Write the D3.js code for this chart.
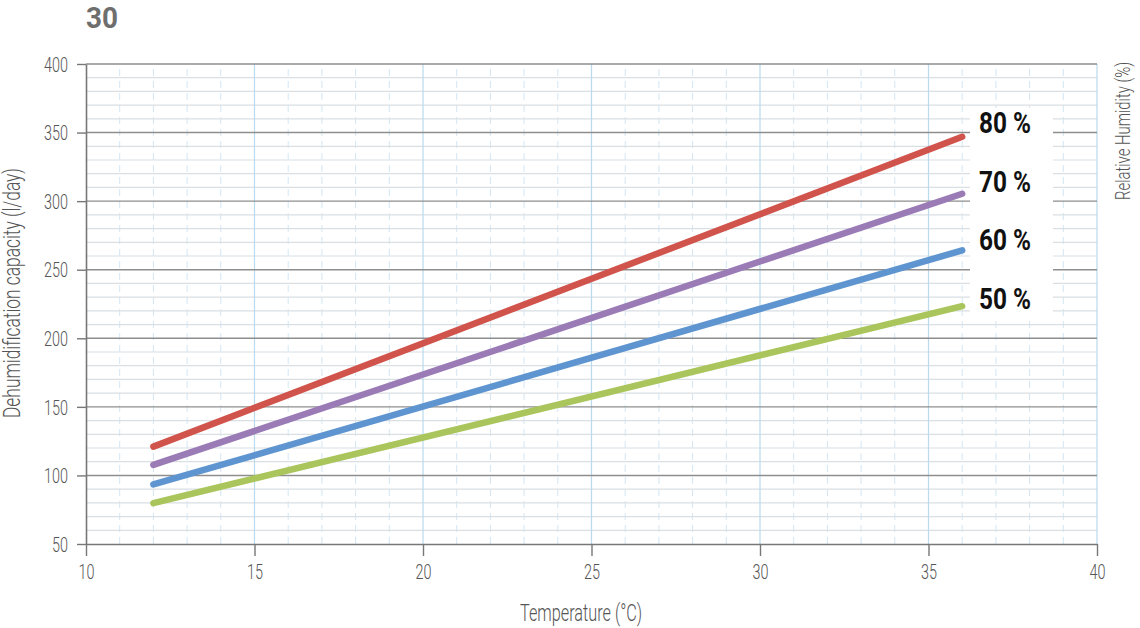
<!DOCTYPE html>
<html>
<head>
<meta charset="utf-8">
<script src="https://cdn.jsdelivr.net/npm/d3@7"></script>
<style>
  html, body { margin: 0; padding: 0; background: #fff; }
  svg { display: block; }
  text { font-family: Roboto, "Liberation Sans", sans-serif; }
</style>
</head>
<body>
<svg id="chart" width="1140" height="628"></svg>
<script>
// ---- data ----
const chartTitle = "30";
const temperatures = [12, 36];
const rh50 = [79.8, 223.4];
const rh60 = [93.4, 264.1];
const rh70 = [107.7, 305.4];
const rh80 = [121.0, 346.9];
const seriesLabels = ["80 %", "70 %", "60 %", "50 %"];
const xTicks = [10, 15, 20, 25, 30, 35, 40];
const yTicks = [50, 100, 150, 200, 250, 300, 350, 400];
const xTitle = "Temperature (°C)";
const yTitle = "Dehumidification capacity (l/day)";
const y2Title = "Relative Humidity (%)";

const series = [
  { name: seriesLabels[0], values: rh80, color: "#d1544c" },
  { name: seriesLabels[1], values: rh70, color: "#9a7bb6" },
  { name: seriesLabels[2], values: rh60, color: "#5e95d0" },
  { name: seriesLabels[3], values: rh50, color: "#a9c55b" }
];

const svg = d3.select("#chart");
const x = d3.scaleLinear().domain([10, 40]).range([86, 1097]);
const y = d3.scaleLinear().domain([50, 400]).range([544, 64]);

const grid = svg.append("g");
// minor vertical (dashed)
grid.selectAll("line.vmin").data(d3.range(11, 40).filter(v => v % 5 !== 0)).join("line")
  .attr("x1", d => x(d)).attr("x2", d => x(d)).attr("y1", y(50)).attr("y2", y(400))
  .attr("stroke", "#d3e6f3").attr("stroke-width", 1).attr("stroke-dasharray", "7,5");
// minor horizontal
grid.selectAll("line.hmin").data(d3.range(60, 400, 10).filter(v => v % 50 !== 0)).join("line")
  .attr("x1", x(10)).attr("x2", x(40)).attr("y1", d => y(d)).attr("y2", d => y(d))
  .attr("stroke", "#dadfe3").attr("stroke-width", 1.2);
// major vertical
grid.selectAll("line.vmaj").data(xTicks.slice(1)).join("line")
  .attr("x1", d => x(d)).attr("x2", d => x(d)).attr("y1", y(50)).attr("y2", y(400))
  .attr("stroke", "#b9daef").attr("stroke-width", 1.2);
// major horizontal
grid.selectAll("line.hmaj").data(yTicks.slice(1)).join("line")
  .attr("x1", x(10)).attr("x2", x(40)).attr("y1", d => y(d)).attr("y2", d => y(d))
  .attr("stroke", "#8e8e8e").attr("stroke-width", 1.4);

// white box behind labels
svg.append("rect").attr("x", 970).attr("y", 108).attr("width", 83).attr("height", 210).attr("fill", "#fff");

// axes
const sx = 0.72;
const yAxis = svg.append("g").attr("transform", `translate(${x(10)},0)`)
  .call(d3.axisLeft(y).tickValues(yTicks).tickSize(9).tickSizeOuter(0));
yAxis.select(".domain").attr("stroke", "#777").attr("stroke-width", 1.6);
yAxis.selectAll(".tick line").attr("stroke", "#777").attr("stroke-width", 1.4);
yAxis.selectAll(".tick text").attr("font-size", 20).attr("font-weight", 300).attr("fill", "#555")
  .attr("x", -18 / sx).attr("dy", "0.36em").attr("transform", `scale(${sx},1)`);

const xAxis = svg.append("g").attr("transform", `translate(0,${y(50)})`)
  .call(d3.axisBottom(x).tickValues(xTicks).tickSize(12).tickSizeOuter(0));
xAxis.select(".domain").attr("stroke", "#777").attr("stroke-width", 1.6);
xAxis.selectAll(".tick line").attr("stroke", "#777").attr("stroke-width", 1.4);
xAxis.selectAll(".tick text").attr("font-size", 20).attr("font-weight", 300).attr("fill", "#555")
  .attr("y", 35).attr("dy", 0).attr("x", 0).attr("transform", `scale(${sx},1)`);
svg.selectAll(".domain").attr("fill", "none");

// lines
const line = d3.line().x((d, i) => x(temperatures[i])).y(d => y(d));
svg.append("g").selectAll("path").data(series).join("path")
  .attr("d", d => line(d.values))
  .attr("fill", "none").attr("stroke", d => d.color)
  .attr("stroke-width", 6.5).attr("stroke-linecap", "round");

// series labels
const labelBaselines = [133, 192, 250, 309];
svg.append("g").selectAll("text").data(series).join("text")
  .attr("x", 979).attr("y", (d, i) => labelBaselines[i])
  .attr("font-size", 29).attr("font-weight", "bold").attr("fill", "#111")
  .attr("textLength", 52).attr("lengthAdjust", "spacingAndGlyphs")
  .text(d => d.name);

// titles
svg.append("text").attr("x", 86).attr("y", 28).attr("font-size", 30).attr("font-weight", "bold")
  .attr("fill", "#6e6e6e").attr("textLength", 32).attr("lengthAdjust", "spacingAndGlyphs").text(chartTitle);

svg.append("text").attr("x", 581).attr("y", 621).attr("text-anchor", "middle")
  .attr("font-size", 23).attr("font-weight", 300).attr("fill", "#555")
  .attr("textLength", 122).attr("lengthAdjust", "spacingAndGlyphs").text(xTitle);

svg.append("text").attr("transform", "translate(20,293) rotate(-90)").attr("text-anchor", "middle")
  .attr("font-size", 23).attr("font-weight", 300).attr("fill", "#555")
  .attr("textLength", 250).attr("lengthAdjust", "spacingAndGlyphs").text(yTitle);

svg.append("text").attr("transform", "translate(1130,131) rotate(-90)").attr("text-anchor", "middle")
  .attr("font-size", 21).attr("font-weight", 300).attr("fill", "#555")
  .attr("textLength", 138).attr("lengthAdjust", "spacingAndGlyphs").text(y2Title);
</script>
</body>
</html>
